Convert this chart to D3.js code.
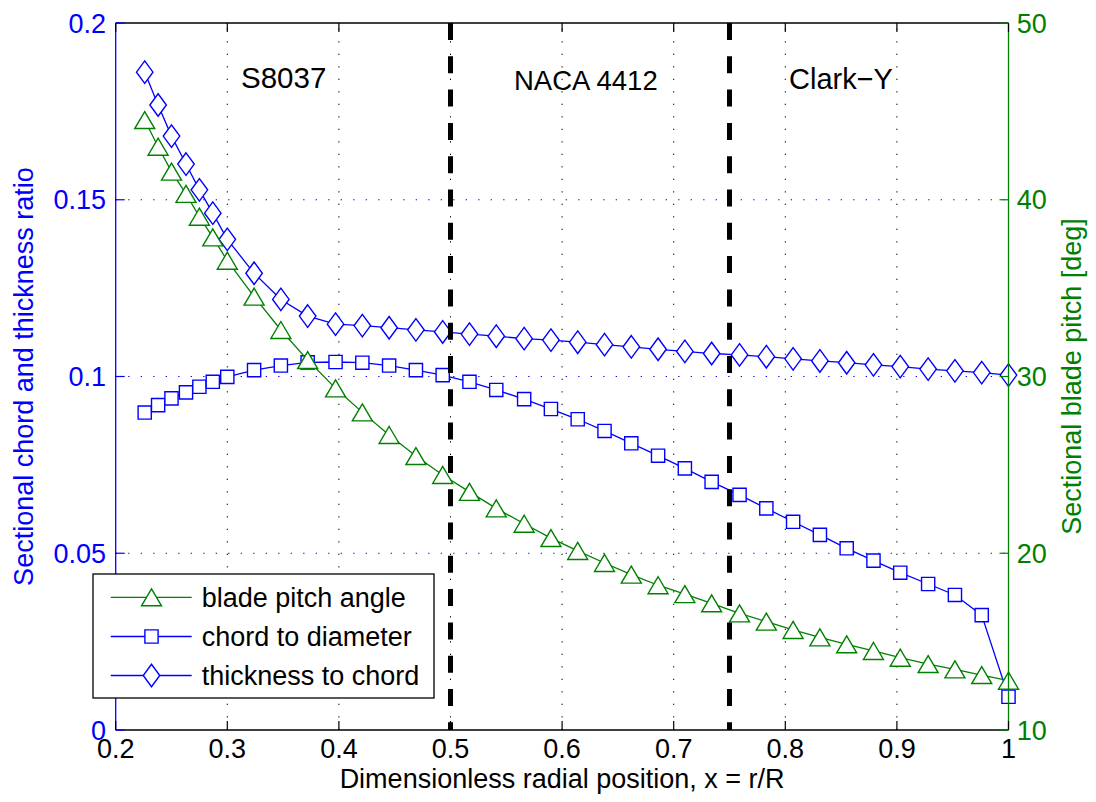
<!DOCTYPE html>
<html>
<head>
<meta charset="utf-8">
<script src="https://cdn.jsdelivr.net/npm/d3@7"></script>
<style>
  html, body { margin: 0; padding: 0; background: #fff; }
  svg { display: block; }
  text { font-family: "Liberation Sans", Arial, Helvetica, sans-serif; }
</style>
</head>
<body>
<svg id="chart" width="1096" height="802"></svg>
<script>
// Radial stations x = r/R
const radialPos = [0.226, 0.238, 0.250, 0.263, 0.275, 0.287, 0.300,
  0.324, 0.348, 0.372, 0.397, 0.421, 0.445, 0.469, 0.493,
  0.517, 0.541, 0.566, 0.590, 0.614, 0.638, 0.662, 0.686, 0.710, 0.734,
  0.759, 0.783, 0.807, 0.831, 0.855, 0.879, 0.903, 0.928, 0.952, 0.976, 1.000];

// Sectional blade pitch [deg] (right axis)
const pitchDeg = [44.51, 43.00, 41.59, 40.33, 39.04, 37.87, 36.55,
  34.52, 32.63, 30.93, 29.33, 27.97, 26.69, 25.50, 24.43,
  23.47, 22.54, 21.67, 20.86, 20.13, 19.45, 18.79, 18.19, 17.69, 17.17,
  16.60, 16.13, 15.66, 15.24, 14.85, 14.47, 14.09, 13.73, 13.43, 13.11, 12.79];

// Chord to diameter (left axis)
const chordRatio = [0.0898, 0.0919, 0.0938, 0.0955, 0.0971, 0.0985, 0.0999,
  0.1018, 0.1031, 0.1040, 0.1041, 0.1039, 0.1031, 0.1018, 0.1004,
  0.0985, 0.0962, 0.0936, 0.0908, 0.0879, 0.0846, 0.0811, 0.0776, 0.0740, 0.0702,
  0.0665, 0.0627, 0.0589, 0.0552, 0.0514, 0.0479, 0.0445, 0.0413, 0.0382, 0.0325, 0.0094];

// Thickness to chord (left axis)
const thickRatio = [0.1861, 0.1768, 0.1680, 0.1601, 0.1528, 0.1462, 0.1388,
  0.1292, 0.1218, 0.1171, 0.1148, 0.1144, 0.1138, 0.1132, 0.1126,
  0.1120, 0.1114, 0.1107, 0.1103, 0.1097, 0.1090, 0.1084, 0.1077, 0.1071, 0.1065,
  0.1061, 0.1056, 0.1050, 0.1044, 0.1039, 0.1033, 0.1028, 0.1021, 0.1016, 0.1011, 0.1004];

const xTicks = [0.2, 0.3, 0.4, 0.5, 0.6, 0.7, 0.8, 0.9, 1];
const xTickLabels = ["0.2", "0.3", "0.4", "0.5", "0.6", "0.7", "0.8", "0.9", "1"];
const leftTicks = [0, 0.05, 0.1, 0.15, 0.2];
const leftTickLabels = ["0", "0.05", "0.1", "0.15", "0.2"];
const rightTicks = [10, 20, 30, 40, 50];
const rightTickLabels = ["10", "20", "30", "40", "50"];

// Airfoil section boundaries and names
const sectionBounds = [0.5, 0.75];
const sectionNames = ["S8037", "NACA 4412", "Clark\u2212Y"];

const legendNames = ["blade pitch angle", "chord to diameter", "thickness to chord"];

const BLUE = "#0000ff", GREEN = "#008000", FONT = 27;

const svg = d3.select("#chart");
const L = 115.7, R = 1008.5, T = 23, B = 730;

const x = d3.scaleLinear().domain([0.2, 1]).range([L, R]);
const yL = d3.scaleLinear().domain([0, 0.2]).range([B, T]);
const yR = d3.scaleLinear().domain([10, 50]).range([B, T]);

// marker shapes
function squarePath(s) { const h = s / 2; return `M${-h},${-h}H${h}V${h}H${-h}Z`; }
function diamondPath(w, hgt) { const a = w / 2, b = hgt / 2; return `M0,${-b}L${a},0L0,${b}L${-a},0Z`; }
function trianglePath(w, hgt) { const a = w / 2, b = hgt / 2; return `M0,${-b}L${a},${b}L${-a},${b}Z`; }
const markers = {
  tri: trianglePath(20, 17),
  sq: squarePath(13.2),
  dia: diamondPath(16.5, 22.5)
};

// grid
const grid = svg.append("g");
grid.selectAll("line.vg").data(xTicks.slice(1, -1)).join("line")
  .attr("x1", d => x(d)).attr("x2", d => x(d)).attr("y1", B).attr("y2", T)
  .attr("stroke", "#000").attr("stroke-width", 1).attr("stroke-dasharray", "1.3,11.2");
grid.selectAll("line.hg").data(leftTicks.slice(1, -1)).join("line")
  .attr("x1", L).attr("x2", R).attr("y1", d => yL(d)).attr("y2", d => yL(d))
  .attr("stroke", BLUE).attr("stroke-width", 1).attr("stroke-dasharray", "1.3,11.2");

// series
const series = [
  { vals: chordRatio, y: yL, color: BLUE, m: markers.sq },
  { vals: thickRatio, y: yL, color: BLUE, m: markers.dia },
  { vals: pitchDeg, y: yR, color: GREEN, m: markers.tri }
];
series.forEach(s => {
  const pts = radialPos.map((r, i) => [x(r), s.y(s.vals[i])]);
  svg.append("path").attr("d", d3.line()(pts))
    .attr("fill", "none").attr("stroke", s.color).attr("stroke-width", 1.3);
  svg.append("g").selectAll("path").data(pts).join("path")
    .attr("transform", d => `translate(${d[0]},${d[1]})`)
    .attr("d", s.m).attr("fill", "#fff").attr("stroke", s.color).attr("stroke-width", 1.4);
});

// section boundaries
svg.selectAll("line.sec").data(sectionBounds).join("line")
  .attr("x1", d => x(d)).attr("x2", d => x(d)).attr("y1", T).attr("y2", B)
  .attr("stroke", "#000").attr("stroke-width", 5).attr("stroke-dasharray", "17,16.3");

// section names
const secPos = [[241, 87.5, 29.5], [514, 90, 27.5], [789, 88.5, 29]];
svg.selectAll("text.sec").data(sectionNames).join("text")
  .attr("x", (d, i) => secPos[i][0]).attr("y", (d, i) => secPos[i][1])
  .attr("font-size", (d, i) => secPos[i][2]).attr("fill", "#000").text(d => d);

// axes frame
svg.append("line").attr("x1", L).attr("x2", R).attr("y1", T).attr("y2", T).attr("stroke", "#000").attr("stroke-width", 1.3);
svg.append("line").attr("x1", L).attr("x2", R).attr("y1", B).attr("y2", B).attr("stroke", "#000").attr("stroke-width", 1.3);
svg.append("line").attr("x1", L).attr("x2", L).attr("y1", T).attr("y2", B).attr("stroke", BLUE).attr("stroke-width", 1.3);
svg.append("line").attr("x1", R).attr("x2", R).attr("y1", T).attr("y2", B).attr("stroke", GREEN).attr("stroke-width", 1.3);

// x ticks (inward, bottom and top)
const TL = 9;
const xt = svg.append("g");
xt.selectAll("line.b").data(xTicks).join("line")
  .attr("x1", d => x(d)).attr("x2", d => x(d)).attr("y1", B).attr("y2", B - TL).attr("stroke", "#000").attr("stroke-width", 1.2);
xt.selectAll("line.t").data(xTicks).join("line")
  .attr("x1", d => x(d)).attr("x2", d => x(d)).attr("y1", T).attr("y2", T + TL).attr("stroke", "#000").attr("stroke-width", 1.2);
xt.selectAll("text").data(xTicks).join("text")
  .attr("x", d => x(d)).attr("y", 757.5).attr("text-anchor", "middle")
  .attr("font-size", FONT).attr("fill", "#000").text((d, i) => xTickLabels[i]);

// left ticks
const lt = svg.append("g");
lt.selectAll("line").data(leftTicks).join("line")
  .attr("x1", L).attr("x2", L + TL).attr("y1", d => yL(d)).attr("y2", d => yL(d)).attr("stroke", BLUE).attr("stroke-width", 1.2);
lt.selectAll("text").data(leftTicks).join("text")
  .attr("x", 106).attr("y", d => yL(d) + 9.5).attr("text-anchor", "end")
  .attr("font-size", FONT).attr("fill", BLUE).text((d, i) => leftTickLabels[i]);

// right ticks
const rt = svg.append("g");
rt.selectAll("line").data(rightTicks).join("line")
  .attr("x1", R).attr("x2", R - TL).attr("y1", d => yR(d)).attr("y2", d => yR(d)).attr("stroke", GREEN).attr("stroke-width", 1.2);
rt.selectAll("text").data(rightTicks).join("text")
  .attr("x", 1016.7).attr("y", d => yR(d) + 9.5).attr("text-anchor", "start")
  .attr("font-size", FONT).attr("fill", GREEN).text((d, i) => rightTickLabels[i]);

// axis titles
svg.append("text").attr("x", (L + R) / 2).attr("y", 788).attr("text-anchor", "middle")
  .attr("font-size", FONT).attr("fill", "#000").text("Dimensionless radial position, x = r/R");
svg.append("text").attr("transform", `translate(33,${(T + B) / 2}) rotate(-90)`).attr("text-anchor", "middle")
  .attr("font-size", FONT).attr("fill", BLUE).text("Sectional chord and thickness ratio");
svg.append("text").attr("transform", `translate(1081,${(T + B) / 2}) rotate(-90)`).attr("text-anchor", "middle")
  .attr("font-size", FONT).attr("fill", GREEN).text("Sectional blade pitch [deg]");

// legend
const lg = svg.append("g");
lg.append("rect").attr("x", 93).attr("y", 574).attr("width", 341).attr("height", 124)
  .attr("fill", "#fff").attr("stroke", "#000").attr("stroke-width", 1.3);
const legendItems = [
  { color: GREEN, m: markers.tri },
  { color: BLUE, m: markers.sq },
  { color: BLUE, m: markers.dia }
];
const rowY = [597.3, 636.5, 675.5];
legendItems.forEach((it, i) => {
  const yy = rowY[i];
  lg.append("line").attr("x1", 110.7).attr("x2", 191.7).attr("y1", yy).attr("y2", yy)
    .attr("stroke", it.color).attr("stroke-width", 1.3);
  lg.append("path").attr("transform", `translate(151.5,${yy})`).attr("d", it.m)
    .attr("fill", "#fff").attr("stroke", it.color).attr("stroke-width", 1.4);
  lg.append("text").attr("x", 201.7).attr("y", yy + 9.5).attr("font-size", FONT)
    .attr("fill", "#000").text(legendNames[i]);
});
</script>
</body>
</html>
